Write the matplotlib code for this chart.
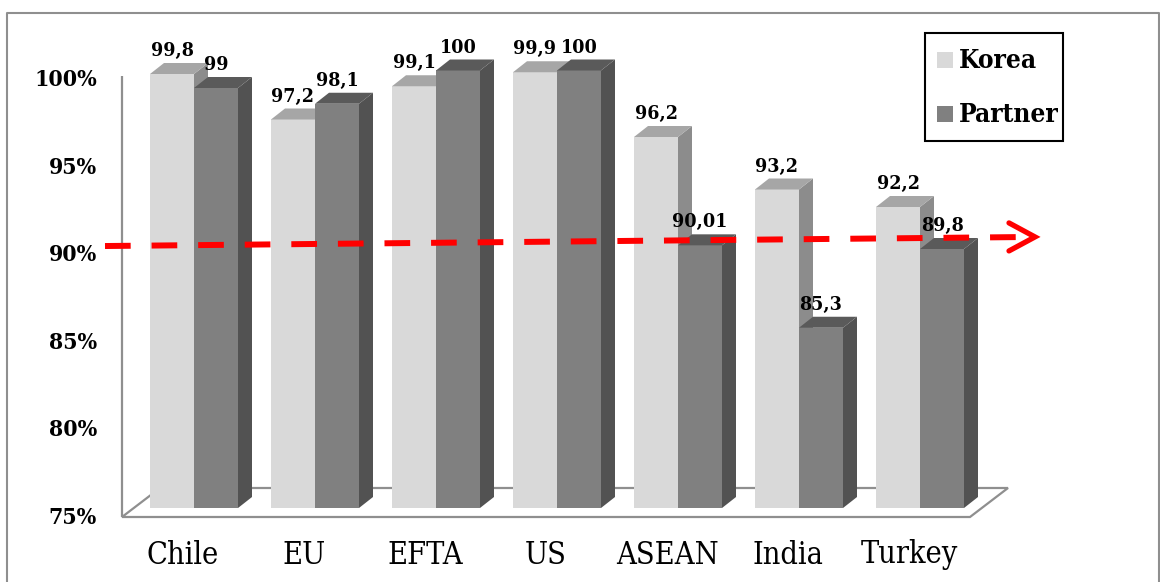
import matplotlib
matplotlib.use("Agg")
import matplotlib.pyplot as plt
from matplotlib.patches import Polygon, Rectangle
from matplotlib.lines import Line2D

# ---- data -------------------------------------------------------------
categories = ["Chile", "EU", "EFTA", "US", "ASEAN", "India", "Turkey"]
korea = [99.8, 97.2, 99.1, 99.9, 96.2, 93.2, 92.2]
partner = [99.0, 98.1, 100.0, 100.0, 90.01, 85.3, 89.8]
series_names = ["Korea", "Partner"]
y_ticks = [75, 80, 85, 90, 95, 100]
y_tick_labels = ["75%", "80%", "85%", "90%", "95%", "100%"]
base_value = 75
threshold = 90

# ---- style ------------------------------------------------------------
W, H, DPI = 1160, 582, 100
GROUP_PX = 121.0          # pixels between category groups
PCT_PX = 17.5             # pixels per percentage point
X0_PX = 194.0             # pixel x of first group centre
BASE_PX = 508.0           # pixel y of the bar bottoms

front = {"Korea": "#d9d9d9", "Partner": "#808080"}
top = {"Korea": "#a6a6a6", "Partner": "#5a5a5a"}
side = {"Korea": "#8c8c8c", "Partner": "#525252"}
grey_line = "#8f8f8f"

plt.rcParams["font.family"] = ["DejaVu Serif"]

fig = plt.figure(figsize=(W / DPI, H / DPI), dpi=DPI)
ax = fig.add_axes([0, 0, 1, 1])
ax.set_xlim(-X0_PX / GROUP_PX, (W - X0_PX) / GROUP_PX)
ax.set_ylim(base_value - (H - BASE_PX) / PCT_PX, base_value + BASE_PX / PCT_PX)
ax.axis("off")


def px_dx(p):
    return p / GROUP_PX


def px_dy(p):
    return p / PCT_PX


bar_w = px_dx(44)
ddx, ddy = px_dx(14), px_dy(11)          # bar depth
front_drop = px_dy(10)                    # front plane sits a bit lower
x_front = px_dx(122 - X0_PX)              # front-left corner of the floor

# ---- floor and vertical axis -----------------------------------------
fy = base_value - px_dy(9)
floor = Polygon([(x_front, fy), (px_dx(970 - X0_PX), fy),
                 (px_dx(1008 - X0_PX), fy + px_dy(29)),
                 (px_dx(160 - X0_PX), fy + px_dy(29))],
                closed=True, facecolor="white", edgecolor=grey_line,
                linewidth=1.6, zorder=1)
ax.add_patch(floor)
ax.plot([x_front, x_front], [fy, 100 - front_drop + px_dy(4)],
        color=grey_line, linewidth=1.6, zorder=1, solid_capstyle="butt")

for v, lab in zip(y_ticks, y_tick_labels):
    ax.text(px_dx(97 - X0_PX), v - front_drop, lab, ha="right", va="center",
            fontsize=16.5, fontweight="bold", fontstretch="condensed",
            color="black")


# ---- 3-D bars --------------------------------------------------------
def fmt(v):
    return f"{v:g}".replace(".", ",")


def draw_bar(x0, v, name, z):
    ax.add_patch(Polygon([(x0 + bar_w, base_value), (x0 + bar_w, v),
                          (x0 + bar_w + ddx, v + ddy),
                          (x0 + bar_w + ddx, base_value + ddy)],
                         closed=True, facecolor=side[name], edgecolor="none",
                         zorder=z))
    ax.bar(x0, v - base_value, bottom=base_value, width=bar_w, align="edge",
           color=front[name], edgecolor="none", zorder=z + 0.1)
    ax.add_patch(Polygon([(x0, v), (x0 + bar_w, v),
                          (x0 + bar_w + ddx, v + ddy), (x0 + ddx, v + ddy)],
                         closed=True, facecolor=top[name], edgecolor="none",
                         zorder=z + 0.2))
    ax.annotate(fmt(v), (x0 + bar_w / 2, v), xytext=(0, 16.5),
                textcoords="offset points", ha="center", va="center",
                fontsize=14, fontweight="bold", fontstretch="condensed",
                zorder=10)


for i, (k, p) in enumerate(zip(korea, partner)):
    draw_bar(i - bar_w, k, "Korea", 2 + i)
    draw_bar(i, p, "Partner", 2.5 + i)
    ax.text(i - px_dx(11), base_value - px_dy(47), categories[i],
            ha="center", va="center", fontsize=22, fontstretch="condensed")

# ---- red dashed threshold arrow ---------------------------------------
x_start, x_end = px_dx(105 - X0_PX), px_dx(1035 - X0_PX)
y_start, y_end = threshold - 0.03, threshold + 0.49
arrow, = ax.plot([x_start, x_end], [y_start, y_end], color="#ff0000",
                 linewidth=4.3, zorder=20)
arrow.set_dashes((4.3, 3.5))
ax.plot([x_end - px_dx(26), x_end, x_end - px_dx(26)],
        [y_end + px_dy(14), y_end, y_end - px_dy(14)],
        color="#ff0000", linewidth=3.8, zorder=20,
        solid_capstyle="round", solid_joinstyle="miter")

# ---- legend (boxed key, upper right) -----------------------------------
fig.add_artist(Rectangle((925 / W, 1 - 141 / H), 138 / W, 108 / H,
                         transform=fig.transFigure, facecolor="white",
                         edgecolor="black", linewidth=1.5, zorder=30))
for j, name in enumerate(series_names):
    cy = 60 + 54 * j
    fig.add_artist(Rectangle((937 / W, 1 - (cy + 8) / H), 16 / W, 16 / H,
                             transform=fig.transFigure, facecolor=front[name],
                             edgecolor="none", zorder=31))
    fig.text(959 / W, 1 - cy / H, name, ha="left", va="center",
             fontsize=18.8, fontweight="bold", fontstretch="condensed",
             zorder=32)

# ---- outer frame ------------------------------------------------------
fig.add_artist(Line2D([7 / W, 7 / W, 1159 / W, 1159 / W],
                      [0, 1 - 13 / H, 1 - 13 / H, 0],
                      transform=fig.transFigure, color=grey_line,
                      linewidth=1.5))

fig.savefig("out.png", dpi=DPI)
